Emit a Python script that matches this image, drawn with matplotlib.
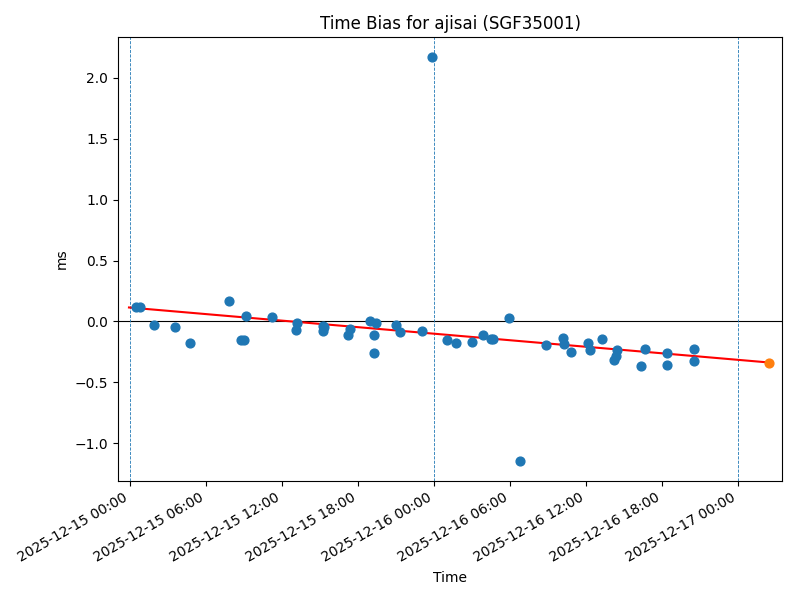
import matplotlib
matplotlib.use("Agg")
import matplotlib.pyplot as plt
import matplotlib.dates as mdates
import pandas as pd

# ---- data ----
obs_times = [
    "2025-12-15 00:30", "2025-12-15 00:46", "2025-12-15 01:55", "2025-12-15 03:35",
    "2025-12-15 04:46", "2025-12-15 07:50", "2025-12-15 08:46", "2025-12-15 09:00",
    "2025-12-15 09:11", "2025-12-15 11:14", "2025-12-15 13:08", "2025-12-15 13:11",
    "2025-12-15 15:13", "2025-12-15 15:16", "2025-12-15 15:20", "2025-12-15 17:13",
    "2025-12-15 17:23", "2025-12-15 18:58", "2025-12-15 19:17", "2025-12-15 19:17",
    "2025-12-15 19:27", "2025-12-15 21:01", "2025-12-15 21:20", "2025-12-15 23:03",
    "2025-12-15 23:50",
    "2025-12-16 01:03", "2025-12-16 01:46", "2025-12-16 03:00", "2025-12-16 03:53",
    "2025-12-16 04:30", "2025-12-16 04:41", "2025-12-16 05:55", "2025-12-16 06:47",
    "2025-12-16 08:52", "2025-12-16 10:12", "2025-12-16 10:17", "2025-12-16 10:50",
    "2025-12-16 12:11", "2025-12-16 12:20", "2025-12-16 13:17", "2025-12-16 14:13",
    "2025-12-16 14:22", "2025-12-16 14:25", "2025-12-16 16:20", "2025-12-16 16:38",
    "2025-12-16 18:25", "2025-12-16 18:25", "2025-12-16 20:33", "2025-12-16 20:33",
]
obs_bias = [
    0.12, 0.12, -0.027, -0.044,
    -0.173, 0.170, -0.15, -0.15,
    0.049, 0.033, -0.074, -0.011,
    -0.035, -0.075, -0.048, -0.109,
    -0.058, 0.0, -0.109, -0.255,
    -0.016, -0.025, -0.085, -0.082,
    2.17,
    -0.148, -0.175, -0.165, -0.115,
    -0.14, -0.14, 0.025, -1.144,
    -0.189, -0.137, -0.184, -0.249,
    -0.179, -0.236, -0.142, -0.313,
    -0.286, -0.233, -0.365, -0.225,
    -0.255, -0.356, -0.23, -0.323,
]
fit_times = ["2025-12-14 23:55", "2025-12-17 02:28"]
fit_bias = [0.115, -0.337]
pred_time = ["2025-12-17 02:28"]
pred_bias = [-0.337]
day_lines = ["2025-12-15 00:00", "2025-12-16 00:00", "2025-12-17 00:00"]
x_limits = ["2025-12-14 23:03", "2025-12-17 03:28"]

# ---- plot ----
t_obs = pd.to_datetime(obs_times)
t_fit = pd.to_datetime(fit_times)
t_pred = pd.to_datetime(pred_time)

fig, ax = plt.subplots(figsize=(8, 6), dpi=100)
ax.axhline(0, color="black", linewidth=0.8)
for d in pd.to_datetime(day_lines):
    ax.axvline(d, color="C0", linestyle="--", linewidth=0.6)
ax.scatter(t_obs, obs_bias, color="C0", s=40, zorder=3)
ax.plot(t_fit, fit_bias, color="red", linewidth=1.5, zorder=2)
ax.scatter(t_pred, pred_bias, color="C1", s=40, zorder=4)

ax.set_xlim(pd.to_datetime(x_limits))
ax.xaxis.set_major_locator(mdates.HourLocator(byhour=[0, 6, 12, 18]))
ax.xaxis.set_major_formatter(mdates.DateFormatter("%Y-%m-%d %H:%M"))
ax.set_title("Time Bias for ajisai (SGF35001)")
ax.set_xlabel("Time")
ax.set_ylabel("ms")
fig.autofmt_xdate()
fig.subplots_adjust(left=118 / 800, right=782 / 800, top=1 - 37 / 600, bottom=1 - 481 / 600)
fig.savefig("out.png", dpi=100)
